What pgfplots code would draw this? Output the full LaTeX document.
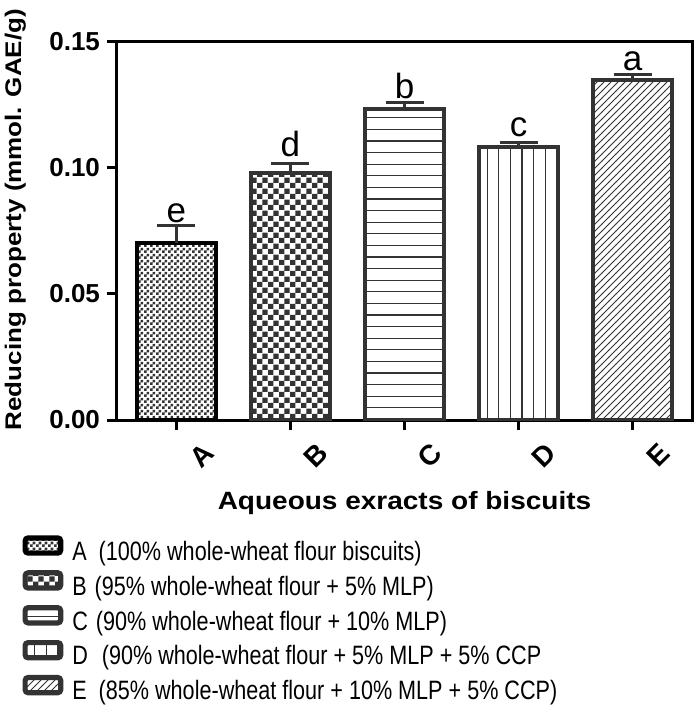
\documentclass[border=0pt]{standalone}
\usepackage{fontspec}
\setmainfont{Liberation Sans}
\usepackage{graphicx}
\usepackage{pgfplots}
\pgfplotsset{compat=1.18}
\usetikzlibrary{patterns}
\definecolor{dg}{HTML}{333333}

\pgfdeclarepatternformonly{checkfine}{\pgfqpoint{0pt}{0pt}}{\pgfqpoint{3pt}{3pt}}{\pgfqpoint{3pt}{3pt}}{%
  \pgfpathrectangle{\pgfqpoint{0pt}{0pt}}{\pgfqpoint{1.5pt}{1.5pt}}%
  \pgfpathrectangle{\pgfqpoint{1.5pt}{1.5pt}}{\pgfqpoint{1.5pt}{1.5pt}}%
  \pgfusepath{fill}}
\pgfdeclarepatternformonly{checkbig}{\pgfqpoint{0pt}{0pt}}{\pgfqpoint{5.6pt}{5.6pt}}{\pgfqpoint{5.6pt}{5.6pt}}{%
  \pgfpathrectangle{\pgfqpoint{0pt}{0pt}}{\pgfqpoint{2.8pt}{2.8pt}}%
  \pgfpathrectangle{\pgfqpoint{2.8pt}{2.8pt}}{\pgfqpoint{2.8pt}{2.8pt}}%
  \pgfusepath{fill}}
\pgfdeclarepatternformonly{hlines}{\pgfqpoint{-1pt}{-1pt}}{\pgfqpoint{6.8pt}{6.8pt}}{\pgfqpoint{5.8pt}{5.8pt}}{%
  \pgfsetlinewidth{0.6pt}%
  \pgfpathmoveto{\pgfqpoint{-1pt}{0pt}}\pgfpathlineto{\pgfqpoint{6.8pt}{0pt}}%
  \pgfusepath{stroke}}
\pgfdeclarepatternformonly{vlines}{\pgfqpoint{-1pt}{-1pt}}{\pgfqpoint{6.8pt}{6.8pt}}{\pgfqpoint{5.8pt}{5.8pt}}{%
  \pgfsetlinewidth{0.6pt}%
  \pgfpathmoveto{\pgfqpoint{0pt}{-1pt}}\pgfpathlineto{\pgfqpoint{0pt}{6.8pt}}%
  \pgfusepath{stroke}}
\pgfdeclarepatternformonly{nelines}{\pgfqpoint{-1pt}{-1pt}}{\pgfqpoint{4.5pt}{4.5pt}}{\pgfqpoint{3.5pt}{3.5pt}}{%
  \pgfsetlinewidth{0.5pt}%
  \pgfpathmoveto{\pgfqpoint{0pt}{0pt}}\pgfpathlineto{\pgfqpoint{3.6pt}{3.6pt}}%
  \pgfusepath{stroke}}

\begin{document}
\begin{tikzpicture}
\begin{axis}[
  scale only axis, width=287.5pt, height=189pt,
  xmin=-0.52, xmax=4.52, ymin=0, ymax=0.15,
  axis line style={line width=1.5pt},
  xtick={0,1,2,3,4}, xticklabels={A,B,C,D,E},
  ytick={0,0.05,0.1,0.15},
  scaled y ticks=false,
  /pgf/number format/assume math mode=true,
  yticklabel style={/pgf/number format/.cd, fixed, fixed zerofill, precision=2},
  tick align=outside, xtick pos=left, ytick pos=left,
  major tick length=5pt, tick style={line width=1.5pt, black},
  ticklabel style={font=\bfseries\fontsize{13}{13}\selectfont},
  xticklabel style={rotate=45, anchor=center, yshift=-18pt, font=\bfseries\fontsize{14}{14}\selectfont},
  ylabel={\scalebox{1.15}[1]{Reducing property (mmol. GAE/g)}},
  ylabel style={font=\bfseries\fontsize{11.3}{12}\selectfont, at={(axis description cs:-0.177,0.53)}, anchor=center},
  xlabel={\scalebox{1.12}[1]{Aqueous exracts of biscuits}},
  xlabel style={font=\bfseries\fontsize{12.5}{14}\selectfont, at={(axis description cs:0.5,-0.22)}, anchor=center},
  ybar, bar width=0.69, bar shift=0pt,
  error bars/y dir=plus, error bars/y explicit,
  error bars/error bar style={line width=1.5pt, dg},
  error bars/error mark options={rotate=90, mark size=9.5pt, line width=1.5pt, dg},
  legend cell align=left,
  legend style={at={(axis description cs:-0.165,-0.304)}, anchor=north west, draw=none, fill=none,
    inner sep=0pt, row sep=1pt, font=\fontsize{10.8}{12}\selectfont,
    nodes={inner sep=1pt, text height=9.5pt, text depth=3pt},
    /tikz/every odd column/.append style={column sep=3.5pt}},
  legend image code/.code={\draw[#1, line width=2.6pt, rounded corners=1.5pt] (0.6pt,0.3pt) rectangle (18.4pt,7.9pt);},
]
\addplot[draw=black, line width=2pt, pattern=checkfine, pattern color=dg] coordinates {(0,0.0702) +- (0,0.0069)};
\addlegendentry{\scalebox{1}[1.23]{A\hspace{6pt}(100\% whole-wheat flour biscuits)}}
\addplot[draw=dg, line width=2pt, pattern=checkbig, pattern color=dg] coordinates {(1,0.0979) +- (0,0.0037)};
\addlegendentry{\scalebox{1}[1.23]{B\hspace{4pt}(95\% whole-wheat flour + 5\% MLP)}}
\addplot[draw=dg, line width=2pt, pattern=hlines, pattern color=dg] coordinates {(2,0.1233) +- (0,0.0027)};
\addlegendentry{\scalebox{1}[1.23]{C\hspace{4pt}(90\% whole-wheat flour + 10\% MLP)}}
\addplot[draw=dg, line width=2pt, pattern=vlines, pattern color=dg] coordinates {(3,0.1082) +- (0,0.0018)};
\addlegendentry{\scalebox{1}[1.23]{D\hspace{7pt}(90\% whole-wheat flour + 5\% MLP + 5\% CCP}}
\addplot[draw=dg, line width=2pt, pattern=nelines, pattern color=dg] coordinates {(4,0.1349) +- (0,0.0023)};
\addlegendentry{\scalebox{1}[1.23]{E\hspace{6pt}(85\% whole-wheat flour + 10\% MLP + 5\% CCP)}}
\node[font=\fontsize{17.5}{18}\selectfont, anchor=base, inner sep=0pt] at (axis cs:0,0.0782) {e};
\node[font=\fontsize{17.5}{18}\selectfont, anchor=base, inner sep=0pt] at (axis cs:1,0.1044) {d};
\node[font=\fontsize{17.5}{18}\selectfont, anchor=base, inner sep=0pt] at (axis cs:2,0.1274) {b};
\node[font=\fontsize{17.5}{18}\selectfont, anchor=base, inner sep=0pt] at (axis cs:3,0.1123) {c};
\node[font=\fontsize{17.5}{18}\selectfont, anchor=base, inner sep=0pt] at (axis cs:4,0.1386) {a};
\end{axis}
\pgfresetboundingbox
\path[use as bounding box] (-58.5pt,-150.5pt) rectangle (289.5pt,210pt);
\end{tikzpicture}
\end{document}
